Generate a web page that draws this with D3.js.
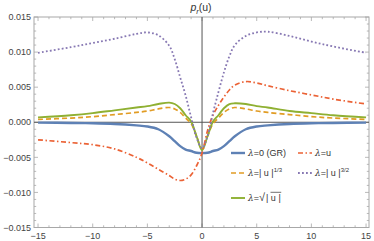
<!DOCTYPE html>
<html>
<head>
<meta charset="utf-8">
<script src="https://cdn.jsdelivr.net/npm/d3@7"></script>
<style>
  body { margin: 0; background: #fff; }
  svg { display: block; font-family: "Liberation Sans", Arial, sans-serif; }
</style>
</head>
<body>
<svg id="chart" width="374" height="241"></svg>
<script>
// sample points
const uValues = [-15, -12, -10, -8, -6, -5, -4, -3, -2.5, -2, -1.5, -1, -0.5, 0, 0.5, 1, 1.5, 2, 2.5, 3, 4, 5, 6, 8, 10, 12, 15];

const grValues = [-0.00005, -0.0001, -0.00015, -0.00025, -0.00045, -0.0006, -0.0010, -0.0020, -0.0027, -0.0034, -0.0039, -0.0041, -0.00435, -0.0044,
  -0.00435, -0.0041, -0.0039, -0.0034, -0.0027, -0.0020, -0.0010, -0.0006, -0.00045, -0.00025, -0.00015, -0.0001, -0.00005];
const linValues = [-0.0025, -0.0029, -0.0032, -0.0038, -0.0050, -0.0058, -0.0067, -0.0076, -0.0081, -0.0083, -0.0081, -0.0075, -0.0062, -0.0044,
  -0.0012, 0.0010, 0.0024, 0.0036, 0.0046, 0.0053, 0.0058, 0.0056, 0.0052, 0.0045, 0.0039, 0.0033, 0.0026];
const cbrtValues = [0.0004, 0.0006, 0.0008, 0.0011, 0.0014, 0.0016, 0.0019, 0.0021, 0.0019, 0.0014, 0.0006, -0.0002, -0.0020, -0.0038,
  -0.0020, -0.0002, 0.0006, 0.0014, 0.0019, 0.0021, 0.0019, 0.0016, 0.0014, 0.0011, 0.0008, 0.0006, 0.0004];
const powValues = [0.0099, 0.0107, 0.0113, 0.0119, 0.0126, 0.0128, 0.0124, 0.0109, 0.0090, 0.0064, 0.0038, 0.0007, -0.0022, -0.0037,
  -0.0020, 0.0013, 0.0043, 0.0071, 0.0094, 0.0110, 0.0123, 0.0128, 0.0129, 0.0123, 0.0115, 0.0108, 0.0099];
const sqrtValues = [0.0007, 0.0010, 0.0013, 0.0017, 0.0021, 0.0023, 0.0026, 0.0028, 0.0026, 0.0020, 0.0010, 0.0001, -0.0020, -0.0040,
  -0.0020, 0.0001, 0.0010, 0.0020, 0.0026, 0.0027, 0.0026, 0.0023, 0.0021, 0.0016, 0.0013, 0.0010, 0.0007];

const xTicks = [-15, -10, -5, 0, 5, 10, 15];
const yTicks = [-0.015, -0.01, -0.005, 0, 0.005, 0.01, 0.015];

const series = [
  { name: "gr", values: grValues, color: "#5E81B5", width: 2.4, dash: null },
  { name: "cbrt", values: cbrtValues, color: "#E19C24", width: 1.7, dash: "5,3" },
  { name: "sqrt", values: sqrtValues, color: "#8FB032", width: 1.9, dash: null },
  { name: "lin", values: linValues, color: "#EB6235", width: 1.7, dash: "5,2.5,1.5,2.5" },
  { name: "pow", values: powValues, color: "#8778B3", width: 1.8, dash: "1.8,2.2" }
];

const svg = d3.select("#chart");
const fLeft = 34, fRight = 369, fTop = 17, fBottom = 227.5;

const x = d3.scaleLinear().domain([-15.37, 15.27]).range([fLeft, fRight]);
const y = d3.scaleLinear().domain([-0.015, 0.015]).range([fBottom, fTop]);

svg.append("defs").append("clipPath").attr("id", "clip")
  .append("rect").attr("x", fLeft).attr("y", fTop).attr("width", fRight - fLeft).attr("height", fBottom - fTop);

// frame
const frameColor = "#a8a8a8";
svg.append("rect").attr("x", fLeft).attr("y", fTop).attr("width", fRight - fLeft).attr("height", fBottom - fTop)
  .attr("fill", "none").attr("stroke", frameColor).attr("stroke-width", 1);

// ticks (inward, all four sides)
const ticks = svg.append("g").attr("stroke", frameColor).attr("stroke-width", 0.8);
d3.range(-15, 16, 1).forEach(v => {
  const len = v % 5 === 0 ? 4 : 2.2;
  ticks.append("line").attr("x1", x(v)).attr("x2", x(v)).attr("y1", fBottom).attr("y2", fBottom - len);
  ticks.append("line").attr("x1", x(v)).attr("x2", x(v)).attr("y1", fTop).attr("y2", fTop + len);
});
d3.range(-15, 16, 1).forEach(k => {
  const v = k / 1000;
  const len = k % 5 === 0 ? 4 : 2.2;
  ticks.append("line").attr("x1", fLeft).attr("x2", fLeft + len).attr("y1", y(v)).attr("y2", y(v));
  ticks.append("line").attr("x1", fRight).attr("x2", fRight - len).attr("y1", y(v)).attr("y2", y(v));
});

// tick labels
const fmtX = d => (d < 0 ? "\u2212" : "") + Math.abs(d);
const fmtY = d => (d < -1e-9 ? "\u2212" : "") + Math.abs(d).toFixed(3);
svg.append("g").selectAll("text").data(xTicks).join("text")
  .attr("x", d => x(d)).attr("y", 239).attr("text-anchor", "middle")
  .attr("font-size", 9).attr("fill", "#444").text(fmtX);
svg.append("g").selectAll("text").data(yTicks).join("text")
  .attr("x", 31).attr("y", d => y(d) + 3.2).attr("text-anchor", "end")
  .attr("font-size", 9).attr("fill", "#444").text(fmtY);

// axes through origin
svg.append("line").attr("x1", x(0)).attr("x2", x(0)).attr("y1", fTop).attr("y2", fBottom)
  .attr("stroke", "#555").attr("stroke-width", 1);
svg.append("line").attr("x1", fLeft).attr("x2", fRight).attr("y1", y(0)).attr("y2", y(0))
  .attr("stroke", "#555").attr("stroke-width", 1);

// curves
const line = d3.line()
  .x((d, i) => x(uValues[i]))
  .y(d => y(d))
  .curve(d3.curveCatmullRom.alpha(0.5));

const plot = svg.append("g").attr("clip-path", "url(#clip)");
series.forEach(s => {
  plot.append("path")
    .attr("d", line(s.values))
    .attr("fill", "none")
    .attr("stroke", s.color)
    .attr("stroke-width", s.width)
    .attr("stroke-dasharray", s.dash)
    .attr("stroke-linejoin", "round");
});

// title
const title = svg.append("text").attr("x", 201).attr("y", 11).attr("text-anchor", "middle")
  .attr("font-size", 10.5).attr("fill", "#333");
title.append("tspan").attr("font-style", "italic").text("p");
title.append("tspan").attr("font-style", "italic").attr("font-size", 7.5).attr("dy", 2.5).text("r");
title.append("tspan").attr("dy", -2.5).text("(u)");

// legend
const legendItems = [
  { s: series[0], lx: 231, ly: 153 },
  { s: series[3], lx: 298, ly: 153 },
  { s: series[1], lx: 231, ly: 173 },
  { s: series[4], lx: 298, ly: 173 },
  { s: series[2], lx: 231, ly: 198 }
];
const lg = svg.append("g");
legendItems.forEach(it => {
  lg.append("line").attr("x1", it.lx).attr("x2", it.lx + 14).attr("y1", it.ly).attr("y2", it.ly)
    .attr("stroke", it.s.color).attr("stroke-width", it.s.width)
    .attr("stroke-dasharray", it.s.dash);
});
const lam = (px, py) => {
  const tx = lg.append("text").attr("x", px).attr("y", py + 3.3).attr("font-size", 9).attr("fill", "#333");
  tx.append("tspan").attr("font-family", "'DejaVu Serif', serif").attr("font-style", "italic").text("\u03bb");
  return tx;
};
lam(248, 153).append("tspan").text("=0 (GR)");
lam(315, 153).append("tspan").text("=u");
const t3 = lam(248, 173);
t3.append("tspan").text("=| u |");
t3.append("tspan").attr("font-size", 6).attr("dy", -4).text("1/3");
const t4 = lam(315, 173);
t4.append("tspan").text("=| u |");
t4.append("tspan").attr("font-size", 6).attr("dy", -4).text("3/2");
const t5 = lam(248, 198);
t5.append("tspan").text("=");
t5.append("tspan").attr("font-size", 11).text("\u221a");
t5.append("tspan").attr("dx", 1).text("| u |");
// radical bar over |u|
const box = t5.node().getBBox();
lg.append("line").attr("x1", 270.5).attr("x2", box.x + box.width + 0.5).attr("y1", 192.3).attr("y2", 192.3)
  .attr("stroke", "#333").attr("stroke-width", 0.7);
</script>
</body>
</html>
